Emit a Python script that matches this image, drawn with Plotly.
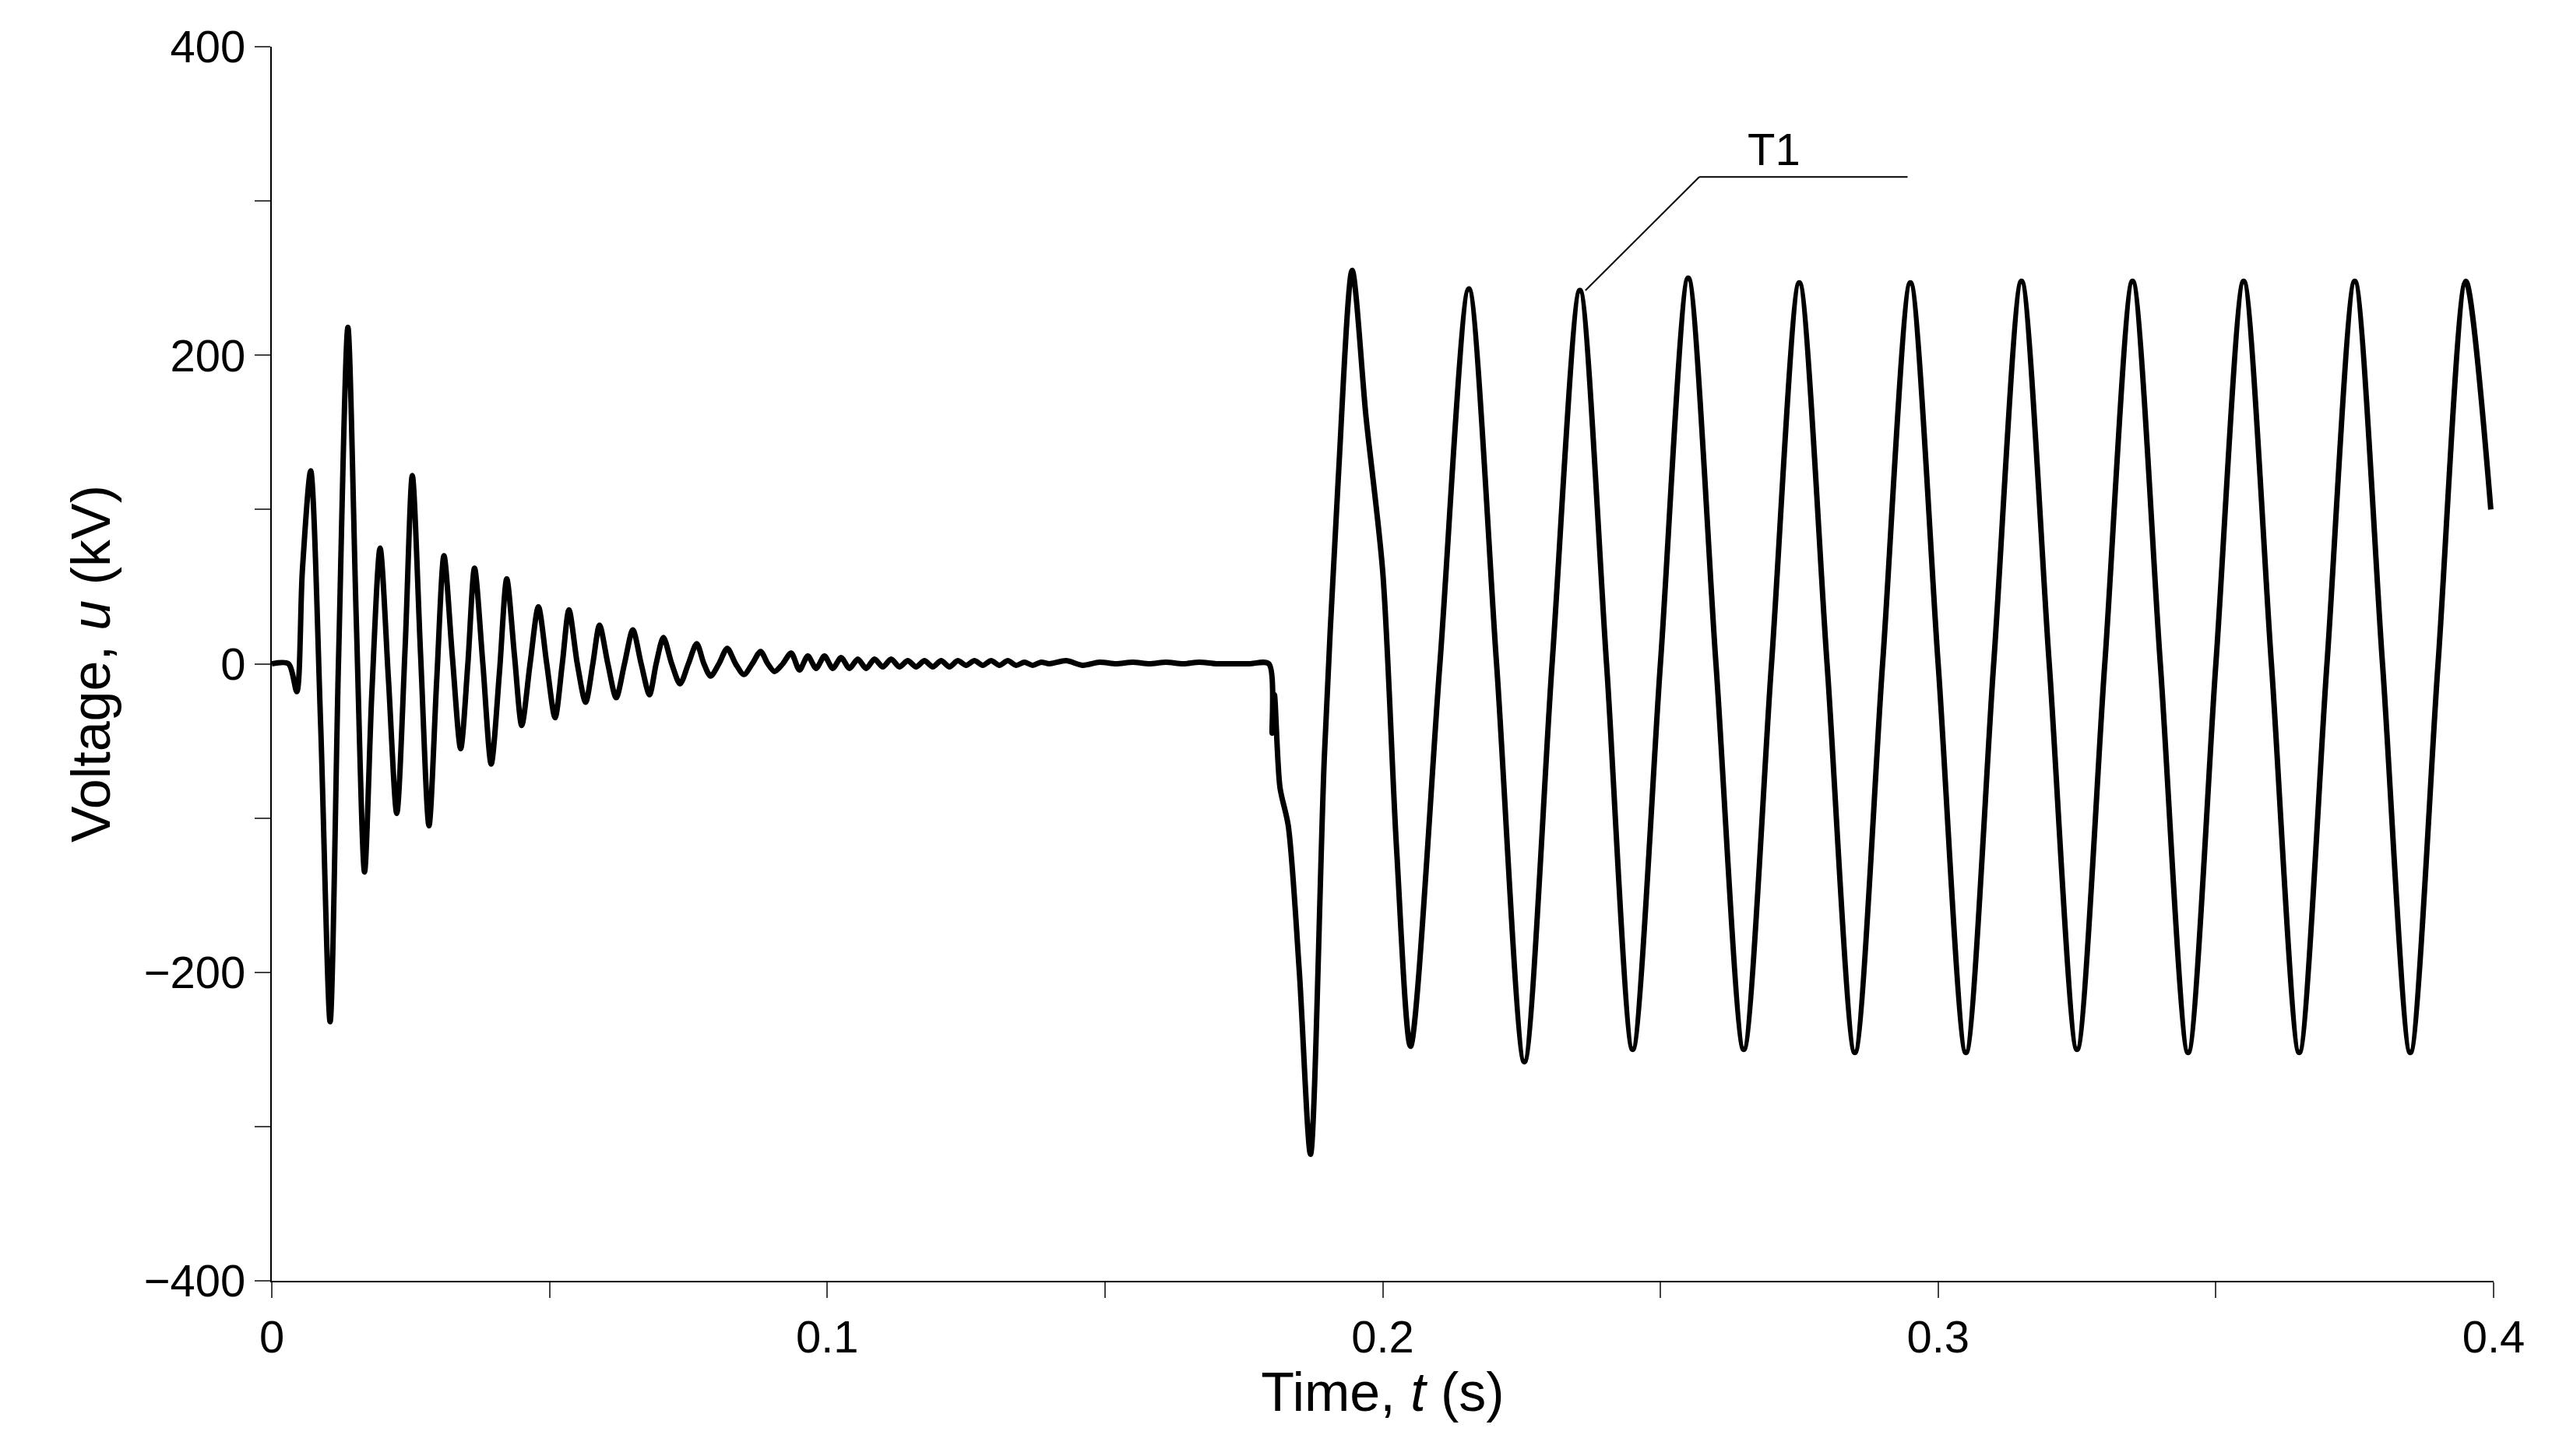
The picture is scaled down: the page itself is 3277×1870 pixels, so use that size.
import plotly.graph_objects as go

# time (s) and voltage (kV)
t = [0, 0.003, 0.0045, 0.0055, 0.007, 0.0088, 0.0105, 0.012, 0.0137, 0.0152, 0.0167, 0.018, 0.0195,
     0.021, 0.0225, 0.024, 0.0253, 0.0268, 0.0283, 0.0297, 0.031, 0.0325, 0.034, 0.0353, 0.0365,
     0.038, 0.0395, 0.041, 0.0423, 0.0437, 0.045, 0.0465, 0.048, 0.0495, 0.051, 0.0523, 0.0535,
     0.055, 0.0565, 0.0578, 0.059, 0.0605, 0.062, 0.0635, 0.065, 0.0665, 0.068, 0.0692, 0.0705,
     0.072, 0.0735, 0.075, 0.0765, 0.0778, 0.079, 0.0805, 0.082, 0.0835, 0.085, 0.0865, 0.088,
     0.0893, 0.0905, 0.092, 0.0935, 0.095, 0.0965, 0.098, 0.0995, 0.101, 0.1025, 0.104, 0.1055,
     0.107, 0.1085, 0.11, 0.1115, 0.113, 0.1145, 0.116, 0.1175, 0.119, 0.1205, 0.122, 0.1235,
     0.125, 0.1265, 0.128, 0.1295, 0.131, 0.1325, 0.134, 0.1355, 0.137, 0.1385, 0.14, 0.143,
     0.146, 0.149, 0.152, 0.155, 0.158, 0.161, 0.164, 0.167, 0.17, 0.173, 0.176, 0.1795,
     0.1801, 0.1805, 0.1815, 0.183, 0.185, 0.187, 0.1895, 0.192, 0.1945, 0.197, 0.2, 0.2025, 0.205,
     0.2103, 0.2155, 0.2205, 0.2255, 0.2305, 0.2355, 0.2403, 0.245, 0.25, 0.255, 0.26, 0.265,
     0.27, 0.275, 0.28, 0.285, 0.29, 0.295, 0.3, 0.305, 0.31, 0.315, 0.32, 0.325, 0.33, 0.335,
     0.34, 0.345, 0.35, 0.355, 0.36, 0.365, 0.37, 0.375, 0.38, 0.385, 0.39, 0.395, 0.3995]
u = [0, 0, -18, 60, 125, -40, -232, 0, 218, 30, -135, -20, 75,
     -10, -97, 10, 122, 5, -105, -10, 70, 5, -55, 0, 62,
     0, -65, -5, 55, 5, -40, 0, 37, 0, -35, 0, 35,
     0, -25, 0, 25, 0, -22, 0, 22, 0, -20, 0, 17,
     0, -13, 0, 13, 0, -8, 0, 10, 0, -7, 0, 8,
     0, -5, 0, 7, -4, 5, -3, 5, -3, 4, -3, 3,
     -3, 3, -2, 3, -2, 2, -2, 2, -2, 2, -2, 2,
     -1, 2, -1, 2, -1, 2, -1, 1, -1, 1, 0, 2,
     -1, 1, 0, 1, 0, 1, 0, 1, 0, 0, 0, 0,
     -45, -20, -80, -105, -200, -318, -60, 120, 255, 160, 60, -120, -248,
     0, 243, 0, -258, 0, 242, 0, -250, 0, 250, 0, -250,
     0, 247, 0, -252, 0, 247, 0, -252, 0, 248, 0, -250, 0, 248,
     0, -252, 0, 248, 0, -252, 0, 248, 0, -252, 0, 248, 100]

xtick_vals = [0, 0.05, 0.1, 0.15, 0.2, 0.25, 0.3, 0.35, 0.4]
xtick_text = ["0", "", "0.1", "", "0.2", "", "0.3", "", "0.4"]
ytick_vals = [-400, -300, -200, -100, 0, 100, 200, 300, 400]
ytick_text = ["\u2212400", "", "\u2212200", "", "0", "", "200", "", "400"]

fig = go.Figure(go.Scatter(x=t, y=u, mode="lines",
                           line=dict(color="black", width=7, shape="spline", smoothing=0.8)))
font = dict(family="Liberation Sans, Arial, sans-serif", size=58, color="black")
fig.update_layout(
    width=3277, height=1870, paper_bgcolor="white", plot_bgcolor="white",
    margin=dict(l=341, r=83, t=52, b=233), showlegend=False, font=font,
    xaxis=dict(range=[0, 0.4], tickvals=xtick_vals, ticktext=xtick_text, ticks="outside",
               ticklen=20, tickwidth=2, showline=True, linecolor="black", linewidth=2,
               showgrid=False, zeroline=False,
               title=dict(text="Time, <i>t</i> (s)", standoff=5)),
    yaxis=dict(range=[-400, 400], tickvals=ytick_vals, ticktext=ytick_text, ticks="outside",
               ticklen=20, tickwidth=2, showline=True, linecolor="black", linewidth=2,
               showgrid=False, zeroline=False,
               title=dict(text="Voltage, <i>u</i> (kV)", standoff=20)),
)
fig.add_shape(type="line", x0=0.2365, y0=242, x1=0.257, y1=315.6, line=dict(color="black", width=2))
fig.add_shape(type="line", x0=0.257, y0=315.6, x1=0.2945, y1=315.6, line=dict(color="black", width=2))
fig.add_annotation(x=0.2705, y=316, text="T1", showarrow=False, yanchor="bottom", font=font)
fig.write_html("out.html")
